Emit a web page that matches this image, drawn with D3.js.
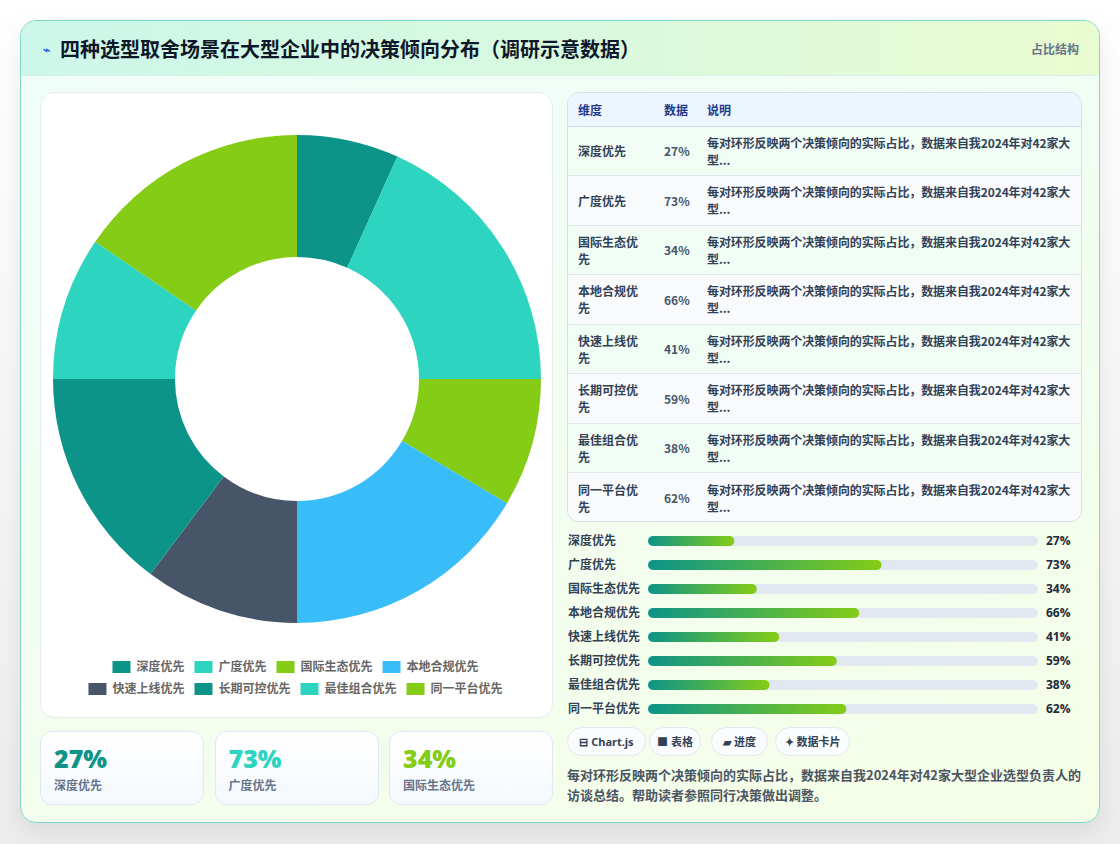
<!DOCTYPE html>
<html lang="zh">
<head>
<meta charset="utf-8">
<script src="https://cdn.jsdelivr.net/npm/d3@7"></script>
<style>
  * { box-sizing: border-box; margin: 0; padding: 0; }
  body {
    width: 1120px; height: 844px; overflow: hidden;
    font-family: "Noto Sans", "Noto Sans CJK SC", sans-serif;
    background: linear-gradient(180deg, #ffffff 0%, #f4f4f4 60%, #ececec 100%);
    position: relative;
  }
  #card {
    position: absolute; left: 20px; top: 20px; width: 1080px; height: 803px;
    border: 1px solid #7dd8c8; border-radius: 16px; overflow: hidden;
    background: linear-gradient(160deg, #effdfa 0%, #f2fdf1 50%, #f5fee6 100%);
    box-shadow: 0 8px 24px rgba(0,0,0,0.08);
  }
  #header {
    position: absolute; left: 0; top: 0; width: 100%; height: 55px;
    background: linear-gradient(90deg, #cdf7ea 0%, #d8f9df 50%, #e9fbd0 100%);
    border-bottom: 1px solid #d6f3e6;
  }
  #title {
    position: absolute; left: 22px; top: 13px; font-size: 20px; font-weight: 700;
    color: #0f172a; font-family: "Noto Sans CJK SC", sans-serif; white-space: nowrap;
  }
  #title .icon { color: #2563eb; font-size: 12px; margin-right: 10px; position: relative; top: -3px; }
  #tag { position: absolute; right: 20px; top: 19px; font-size: 12px; font-weight: 700; color: #64748b; font-family: "Noto Sans CJK SC", sans-serif; }
  #donutBox {
    position: absolute; left: 19px; top: 71px; width: 513px; height: 626px;
    background: #fff; border: 1px solid #e2eef0; border-radius: 14px;
  }
  .stat {
    position: absolute; top: 710px; width: 164px; height: 74px;
    background: linear-gradient(180deg, #ffffff, #f5f9fd); border: 1px solid #dde9f5; border-radius: 12px;
  }
  .stat .v { position: absolute; left: 13px; top: 9px; font-size: 25px; font-weight: 800; font-family: "Open Sans", "Noto Sans", sans-serif; }
  .stat .l { position: absolute; left: 13px; top: 44px; font-size: 12px; font-weight: 700; color: #64748b; font-family: "Noto Sans CJK SC", sans-serif; }
  #tableBox {
    position: absolute; left: 546px; top: 71px; width: 515px; height: 430px;
    border: 1px solid #d3dee9; border-radius: 12px; overflow: hidden; background: #f8fafc;
  }
  table { border-collapse: collapse; width: 100%; font-family: "Noto Sans CJK SC", sans-serif; font-size: 12px; table-layout: fixed; }
  th { background: #edf5ff; color: #1e3a8a; font-weight: 700; text-align: left; height: 33px; padding: 0 10px; border-bottom: 1px solid #d3dee9; white-space: nowrap; }
  td { color: #334155; font-weight: 700; height: 49.5px; padding: 0 10px; line-height: 17px; border-top: 1px solid #e2e8f0; vertical-align: middle; }
  th:nth-child(2), td:nth-child(2) { padding-right: 0; }
  td.desc { white-space: nowrap; padding-right: 0; letter-spacing: -0.1px; }
  tr:nth-child(odd) td { background: #f1fcf5; }
  tr:nth-child(even) td { background: #f8fafc; }
  #bars { position: absolute; left: 546px; top: 507px; }
  .btn {
    position: absolute; top: 706px; height: 29px; border-radius: 15px; background: #fbfcfe;
    border: 1px solid #e3e8ef; font-size: 11px; font-weight: 700; color: #334155;
    line-height: 27px; text-align: center; font-family: "Noto Sans", "Noto Sans CJK SC", sans-serif;
  }
  #note {
    position: absolute; left: 546px; top: 744px; width: 530px; font-size: 13px; font-weight: 700;
    color: #4b5563; line-height: 20px; font-family: "Noto Sans CJK SC", sans-serif; white-space: nowrap;
  }
</style>
</head>
<body>
<div id="card">
  <div id="header">
    <div id="title"><span class="icon">⌁</span>四种选型取舍场景在大型企业中的决策倾向分布（调研示意数据）</div>
    <div id="tag">占比结构</div>
  </div>
  <div id="donutBox"></div>
  <div id="stats"></div>
  <div id="tableBox"></div>
  <svg id="bars" width="520" height="200"></svg>
  <div id="btns"></div>
  <div id="note">每对环形反映两个决策倾向的实际占比，数据来自我2024年对42家大型企业选型负责人的<br>访谈总结。帮助读者参照同行决策做出调整。</div>
</div>
<script>
// data
const categories = ["深度优先", "广度优先", "国际生态优先", "本地合规优先", "快速上线优先", "长期可控优先", "最佳组合优先", "同一平台优先"];
const values = [27, 73, 34, 66, 41, 59, 38, 62];
const sliceColors = ["#0d9488", "#2dd4bf", "#84cc16", "#38bdf8", "#475569", "#0d9488", "#2dd4bf", "#84cc16"];
const noteText = "每对环形反映两个决策倾向的实际占比，数据来自我2024年对42家大";
const tableHeaders = ["维度", "数据", "说明"];
const buttons = ["⊟ Chart.js", "■ 表格", "▰ 进度", "✦ 数据卡片"];

const data = categories.map((c, i) => ({ name: c, value: values[i], color: sliceColors[i] }));

// donut
const dw = 513, dh = 626;
const svg = d3.select("#donutBox").append("svg")
  .attr("width", dw).attr("height", dh);

const g = svg.append("g").attr("transform", `translate(${256},${286})`);
const pie = d3.pie().sort(null).value(d => d.value);
const arc = d3.arc().innerRadius(122).outerRadius(244);

g.selectAll("path")
  .data(pie(data))
  .enter().append("path")
  .attr("d", arc)
  .attr("fill", d => d.data.color);

// legend, 2 rows of 4, centered
const legend = svg.append("g").attr("font-size", 12).attr("fill", "#666")
  .attr("font-family", "Noto Sans CJK SC, sans-serif").attr("font-weight", 700);
const rows = [data.slice(0, 4), data.slice(4)];
rows.forEach((row, r) => {
  const rg = legend.append("g");
  let x = 0;
  row.forEach(d => {
    const item = rg.append("g").attr("transform", `translate(${x},0)`);
    item.append("rect").attr("width", 18).attr("height", 12).attr("y", -6).attr("fill", d.color);
    const t = item.append("text").attr("x", 24).attr("dy", "0.35em").text(d.name);
    x += 24 + t.node().getComputedTextLength() + 10;
  });
  x -= 10;
  rg.attr("transform", `translate(${(dw - x) / 2 - 2},${574 + r * 22})`);
});

// stat cards
const statColors = ["#0d9488", "#2dd4bf", "#84cc16"];
d3.select("#stats").selectAll(".stat")
  .data(data.slice(0, 3))
  .enter().append("div")
  .attr("class", "stat")
  .style("left", (d, i) => (19 + i * 174.5) + "px")
  .each(function(d, i) {
    d3.select(this).append("div").attr("class", "v").style("color", statColors[i]).text(d.value + "%");
    d3.select(this).append("div").attr("class", "l").text(d.name);
  });

// table
const table = d3.select("#tableBox").append("table");
table.append("thead").append("tr").selectAll("th")
  .data(tableHeaders).enter().append("th")
  .style("width", (d, i) => ["86px", "43px", null][i])
  .text(d => d);
const tr = table.append("tbody").selectAll("tr").data(data).enter().append("tr");
tr.append("td").html(d => d.name.length > 5 ? d.name.slice(0, 5) + "<br>" + d.name.slice(5) : d.name);
tr.append("td").style("font-weight", 600).style("color", "#475569").text(d => d.value + "%");
tr.append("td").attr("class", "desc").html(noteText + "<br>型...");

// progress bars
const bars = d3.select("#bars");
const defs = bars.append("defs");
const x = d3.scaleLinear().domain([0, 100]).range([0, 320]);
const bg = bars.selectAll(".row").data(data).enter().append("g")
  .attr("transform", (d, i) => `translate(0,${13 + i * 24})`);
bg.append("text").attr("x", 1).attr("dy", "0.35em")
  .attr("font-size", 12).attr("font-weight", 700).attr("fill", "#334155")
  .attr("font-family", "Noto Sans CJK SC, sans-serif").text(d => d.name);
bg.append("rect").attr("x", 81).attr("y", -5).attr("height", 10).attr("rx", 5)
  .attr("width", 390).attr("fill", "#e2e8f0");
data.forEach((d, i) => {
  const lg = defs.append("linearGradient").attr("id", "grad" + i)
    .attr("x1", "0%").attr("x2", "100%");
  lg.append("stop").attr("offset", "0%").attr("stop-color", "#0d9488");
  lg.append("stop").attr("offset", "100%").attr("stop-color", "#84cc16");
});
bg.append("rect").attr("x", 81).attr("y", -5).attr("height", 10).attr("rx", 5)
  .attr("width", d => x(d.value)).attr("fill", (d, i) => `url(#grad${i})`);
bg.append("text").attr("x", 479).attr("dy", "0.35em")
  .attr("font-size", 12).attr("font-weight", 700).attr("fill", "#1e293b")
  .attr("font-family", "Open Sans, Noto Sans, sans-serif").text(d => d.value + "%");

// buttons
const btnX = [546, 628, 690, 754];
const btnW = [79, 52, 57, 75];
d3.select("#btns").selectAll(".btn").data(buttons).enter().append("div")
  .attr("class", "btn")
  .style("left", (d, i) => btnX[i] + "px")
  .style("width", (d, i) => btnW[i] + "px")
  .text(d => d);
</script>
</body>
</html>
